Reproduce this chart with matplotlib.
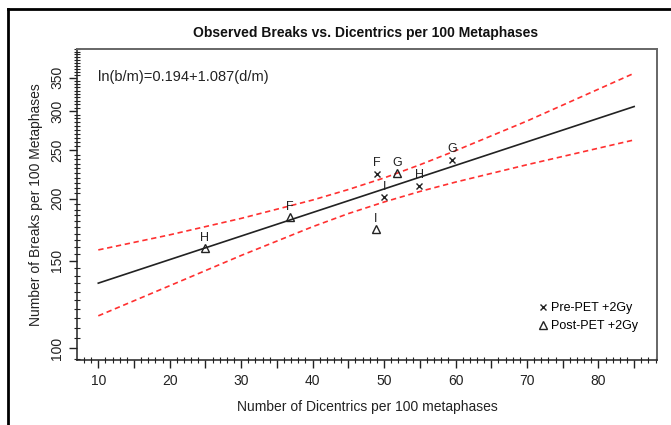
import matplotlib
matplotlib.use("Agg")
import matplotlib.pyplot as plt
from matplotlib.ticker import FixedLocator, FixedFormatter, MultipleLocator, NullFormatter
from matplotlib.lines import Line2D

plt.rcParams['font.family'] = ['Liberation Sans', 'DejaVu Sans']

# Datos
pre_d = [49.0, 50.0, 54.9, 59.5]
pre_b = [224.5, 201.5, 212.5, 239.5]
pre_lab = ['F', 'I', 'H', 'G']

post_d = [24.9, 36.85, 51.8, 48.8]
post_b = [159.1, 183.5, 225.0, 173.5]
post_lab = ['H', 'F', 'G', 'I']

# Recta ajustada ln(b/m)=0.194+1.087(d/m)
fit_d = [10, 85]
fit_b = [135.2, 306.4]

# Bandas de confianza
band_d = [10, 20, 30, 40, 45, 50, 55, 60, 70, 85]
band_up = [157.7, 169.1, 182.5, 198.7, 208.6, 220.1, 233.9, 249.7, 286.5, 357.5]
band_lo = [116.2, 133.6, 153.7, 175.6, 186.6, 196.9, 206.7, 215.9, 234.0, 262.5]

x_ticks = [10, 20, 30, 40, 50, 60, 70, 80]
y_ticks = [100, 150, 200, 250, 300, 350]

W, H = 671, 425
fig = plt.figure(figsize=(W / 100, H / 100), dpi=100)
ax = fig.add_axes([77 / W, (H - 360) / H, (657 - 77) / W, (360 - 49) / H])

ink = '#222222'
ax.plot(fit_d, fit_b, color=ink, lw=1.2)
ax.plot(band_d, band_up, color='#ff3030', lw=1.2, ls=(0, (3.2, 2.2)))
ax.plot(band_d, band_lo, color='#ff3030', lw=1.2, ls=(0, (3.2, 2.2)))

ax.plot(pre_d, pre_b, 'x', color=ink, ms=5, mew=1.0)
ax.plot(post_d, post_b, '^', mfc='none', mec=ink, ms=5.5, mew=1.0)
for d, b, s in zip(pre_d + post_d, pre_b + post_b, pre_lab + post_lab):
    ax.annotate(s, (d, b), xytext=(0, 7.5), textcoords='offset points',
                ha='center', va='center', fontsize=9, color=ink)

ax.set_yscale('log')
ax.set_xlim(7.02, 88.2)
ax.set_ylim(94.7, 400)

ax.set_xticks(x_ticks + [15, 25, 35, 45, 55, 65, 75, 85])
ax.set_xticklabels([str(t) for t in x_ticks] + [''] * 8)
ax.xaxis.set_minor_locator(MultipleLocator(1))

ax.yaxis.set_major_locator(FixedLocator(y_ticks))
ax.yaxis.set_major_formatter(FixedFormatter([str(t) for t in y_ticks]))
ax.yaxis.set_minor_locator(FixedLocator(list(range(95, 401, 5))))
ax.yaxis.set_minor_formatter(NullFormatter())
plt.setp(ax.get_yticklabels(), rotation=90, va='center')

ax.tick_params(which='major', direction='out', length=6, width=1, color=ink,
               labelsize=10, labelcolor=ink, pad=4)
ax.tick_params(which='minor', direction='inout', length=4, width=0.8, color=ink)
ax.tick_params(axis='y', which='major', pad=3)

for side in ['left', 'bottom']:
    ax.spines[side].set_color(ink)
    ax.spines[side].set_linewidth(1.1)
for side in ['top', 'right']:
    ax.spines[side].set_color('#666666')
    ax.spines[side].set_linewidth(1.4)

ax.text(98 / W, 1 - 77 / H, 'ln(b/m)=0.194+1.087(d/m)', transform=fig.transFigure,
        fontsize=10.5, color=ink, va='center', ha='left')
fig.text(365.5 / W, 1 - 33 / H, 'Observed Breaks vs. Dicentrics per 100 Metaphases',
         ha='center', va='center', fontsize=10, fontweight='bold', color='#111111')
fig.text(367 / W, 1 - 407 / H, 'Number of Dicentrics per 100 metaphases',
         ha='center', va='center', fontsize=10, color=ink)
fig.text(36 / W, 1 - 205 / H, 'Number of Breaks per 100 Metaphases',
         ha='center', va='center', rotation=90, fontsize=10, color=ink)

handles = [Line2D([], [], ls='none', marker='x', color=ink, ms=5, mew=1.0),
           Line2D([], [], ls='none', marker='^', mfc='none', mec=ink, ms=5.5, mew=1.0)]
ax.legend(handles, ['Pre-PET +2Gy', 'Post-PET +2Gy'], loc='lower right',
          bbox_to_anchor=(0.978, 0.07), frameon=False, fontsize=9,
          handlelength=0.6, handletextpad=0.3, labelspacing=0.45, borderpad=0)

# marco exterior
fig.add_artist(Line2D([7.5 / W, 7.5 / W], [0, 1 - 9 / H], transform=fig.transFigure,
                      color='black', lw=2))
fig.add_artist(Line2D([7.5 / W, 1], [1 - 9 / H, 1 - 9 / H], transform=fig.transFigure,
                      color='black', lw=2))

fig.savefig('out.png', dpi=100)
